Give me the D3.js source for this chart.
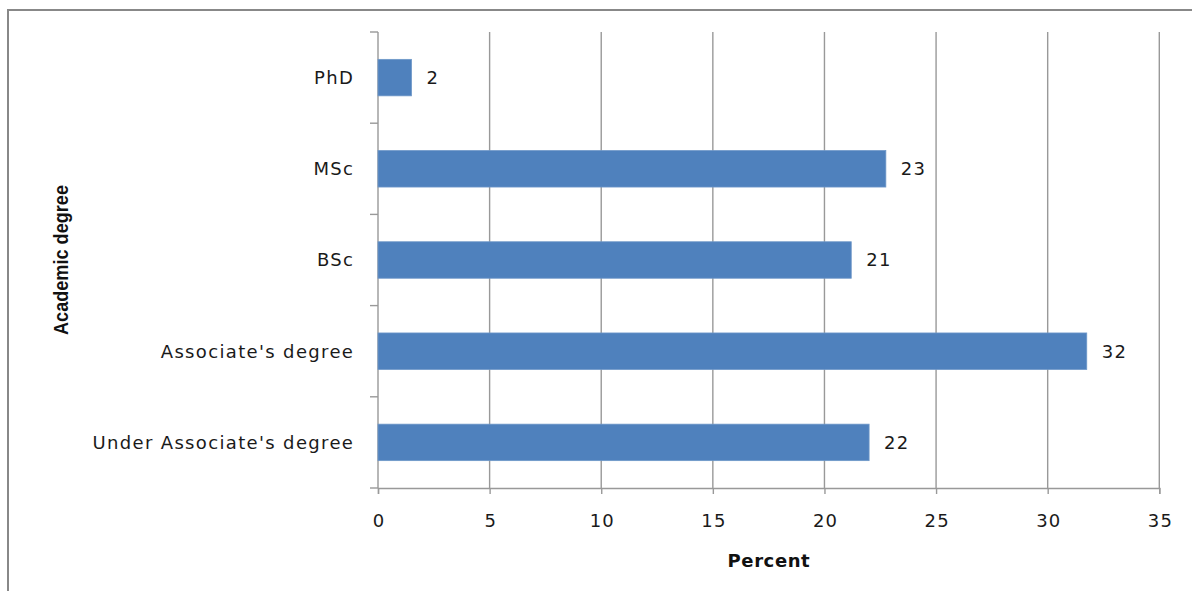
<!DOCTYPE html>
<html>
<head>
<meta charset="utf-8">
<script src="https://cdn.jsdelivr.net/npm/d3@7"></script>
<style>
  html, body { margin: 0; padding: 0; background: #fff; }
  svg { display: block; }
</style>
</head>
<body>
<svg id="chart" width="1192" height="591"></svg>
<script>
// Share of respondents by academic degree (percent)
const categories = ["PhD", "MSc", "BSc", "Associate's degree", "Under Associate's degree"];
const values = [1.5, 22.75, 21.2, 31.75, 22.0];
const xTicks = [0, 5, 10, 15, 20, 25, 30, 35];
const xTitle = "Percent";
const yTitle = "Academic degree";

(function draw() {
  const svg = d3.select("#chart");
  const W = 1192, H = 591;
  const plotLeft = 378, plotRight = 1159.3, plotTop = 32, plotBottom = 488;
  const font = "DejaVu Sans, Verdana, sans-serif";
  const textColor = "#1a1a1a";

  // outer frame (open on right and bottom)
  svg.append("path")
    .attr("d", `M8,${H + 2} L8,10 L${W + 2},10`)
    .attr("fill", "none")
    .attr("stroke", "#888")
    .attr("stroke-width", 2);

  const x = d3.scaleLinear().domain([0, 35]).range([plotLeft, plotRight]);
  const y = d3.scaleBand().domain(categories).range([plotTop, plotBottom]).paddingInner(0.6).paddingOuter(0.3);
  const yBands = d3.scaleBand().domain(categories).range([plotTop, plotBottom]);

  const gridColor = "#999";

  // x axis with ticks below
  const xAxis = d3.axisBottom(x).tickValues(xTicks).tickSize(6).tickPadding(20).tickFormat(d3.format("d"));
  const gx = svg.append("g").attr("transform", `translate(0,${plotBottom})`).call(xAxis);
  gx.select(".domain").attr("stroke", gridColor).attr("stroke-width", 1.4);
  gx.selectAll(".tick line").attr("stroke", gridColor).attr("stroke-width", 1.4);
  gx.selectAll(".tick text")
    .attr("font-family", font)
    .attr("font-size", 18)
    .attr("letter-spacing", 1.2)
    .attr("dx", 0.6)
    .attr("fill", textColor);

  // vertical gridlines
  svg.append("g").selectAll("line")
    .data(xTicks.filter(d => d > 0))
    .join("line")
    .attr("x1", d => x(d)).attr("x2", d => x(d))
    .attr("y1", plotTop).attr("y2", plotBottom)
    .attr("stroke", gridColor).attr("stroke-width", 1.4);

  // y axis with tick marks at band boundaries
  svg.append("line")
    .attr("x1", plotLeft).attr("x2", plotLeft).attr("y1", plotTop).attr("y2", plotBottom)
    .attr("stroke", gridColor).attr("stroke-width", 1.4);
  const boundaries = categories.map(c => yBands(c)).concat([plotBottom]);
  svg.append("g").selectAll("line")
    .data(boundaries)
    .join("line")
    .attr("x1", plotLeft - 8).attr("x2", plotLeft)
    .attr("y1", d => d).attr("y2", d => d)
    .attr("stroke", gridColor).attr("stroke-width", 1.4);

  // category labels
  svg.append("g").selectAll("text")
    .data(categories)
    .join("text")
    .attr("x", 354.3)
    .attr("y", d => yBands(d) + yBands.bandwidth() / 2)
    .attr("dy", "0.36em")
    .attr("text-anchor", "end")
    .attr("font-family", font)
    .attr("font-size", 18)
    .attr("letter-spacing", 1.35)
    .attr("fill", textColor)
    .text(d => d);

  // bars
  const data = categories.map((c, i) => ({ c, v: values[i] }));
  svg.append("g").selectAll("rect")
    .data(data)
    .join("rect")
    .attr("x", x(0))
    .attr("y", d => y(d.c))
    .attr("width", d => x(d.v) - x(0))
    .attr("height", y.bandwidth())
    .attr("fill", "#4F81BD")
    .attr("stroke", "#6E97C8")
    .attr("stroke-width", 0.8);

  // value labels
  svg.append("g").selectAll("text")
    .data(data)
    .join("text")
    .attr("x", d => x(d.v) + 15)
    .attr("y", d => y(d.c) + y.bandwidth() / 2)
    .attr("dy", "0.36em")
    .attr("font-family", font)
    .attr("font-size", 18)
    .attr("letter-spacing", 1.2)
    .attr("fill", textColor)
    .text(d => d3.format(".0f")(d.v));

  // axis titles
  svg.append("text")
    .attr("x", (plotLeft + plotRight) / 2 + 0.3)
    .attr("y", 567)
    .attr("text-anchor", "middle")
    .attr("font-family", font)
    .attr("font-weight", "bold")
    .attr("font-size", 18)
    .attr("letter-spacing", 0.6)
    .attr("fill", "#111")
    .text(xTitle);

  svg.append("text")
    .attr("transform", `translate(68,${(plotTop + plotBottom) / 2}) rotate(-90)`)
    .attr("text-anchor", "middle")
    .attr("font-family", "Liberation Sans Narrow, Arial Narrow, sans-serif")
    .attr("font-weight", "bold")
    .attr("font-size", 20)
    .attr("textLength", 150)
    .attr("lengthAdjust", "spacingAndGlyphs")
    .attr("fill", "#111")
    .text(yTitle);
})();
</script>
</body>
</html>
